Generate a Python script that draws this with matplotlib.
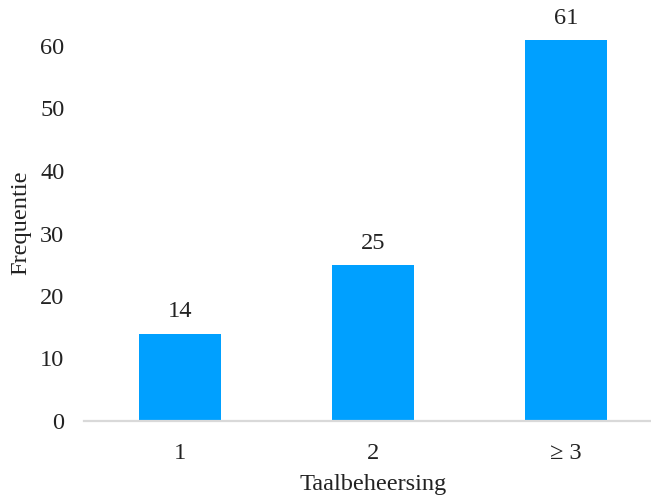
import matplotlib.pyplot as plt

categories = ["1", "2", "\u2265 3"]
counts = [14, 25, 61]
y_ticks = [0, 10, 20, 30, 40, 50, 60]

FS = 17.6
plt.rcParams["font.family"] = ["Liberation Serif", "DejaVu Serif"]
plt.rcParams["font.size"] = FS

W, H = 651, 498
fig = plt.figure(figsize=(W / 100, H / 100), dpi=100)
# axes box in pixel terms: left edge 84, zero line at 421, top at the figure edge
ax = fig.add_axes([84 / W, (H - 421) / H, (W - 84) / W, 421 / H])

x = list(range(len(categories)))
bars = ax.bar(x, counts, width=0.425, color="#00A0FF", zorder=2)

for xi, v in zip(x, counts):
    ax.annotate(str(v), (xi, v), xytext=(0, 8), textcoords="offset points",
                ha="center", va="bottom", color="#222222", fontsize=FS)

ax.set_xlim(-0.497, 2.44)
ax.set_ylim(0, 421 / 6.25)
ax.set_yticks(y_ticks)
ax.set_xticks(x)
ax.set_xticklabels(categories)

for side in ("left", "right", "top"):
    ax.spines[side].set_visible(False)
ax.spines["bottom"].set_color("#D9D9D9")
ax.spines["bottom"].set_linewidth(1.6)
ax.spines["bottom"].set_zorder(3)

ax.tick_params(axis="both", length=0, colors="#222222", labelsize=FS)
ax.tick_params(axis="y", pad=14)
ax.tick_params(axis="x", pad=16)

ax.set_xlabel("Taalbeheersing", fontsize=FS, color="#222222")
ax.set_ylabel("Frequentie", fontsize=FS, color="#222222")
# centre the titles on the plotted span rather than the full axes box
ax.xaxis.set_label_coords(0.51, -0.125)
ax.yaxis.set_label_coords(-0.093, 0.47)

fig.savefig("out.png", dpi=100)
